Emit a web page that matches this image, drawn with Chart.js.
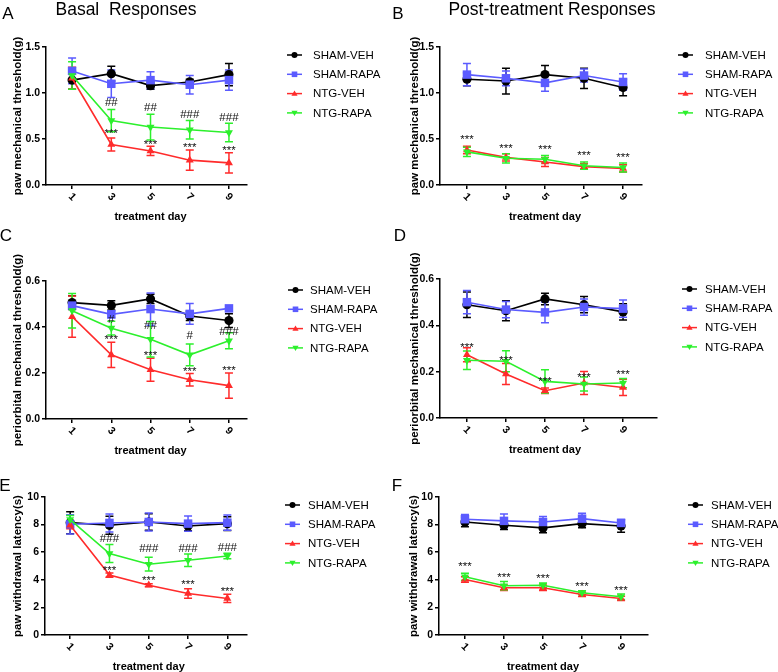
<!DOCTYPE html>
<html lang="en">
<head>
<meta charset="UTF-8">
<title>Basal and post-treatment responses</title>
<script src="https://cdn.jsdelivr.net/npm/chart.js"></script>
<style>
  body { margin: 0; background: #fff; }
  #wrap { position: relative; width: 778px; height: 672px; overflow: hidden; }
  canvas { position: absolute; }
</style>
</head>
<body>
<div id="wrap">
  <canvas id="cA" width="389" height="232" style="left:0;top:0"></canvas>
  <canvas id="cB" width="389" height="232" style="left:389px;top:0"></canvas>
  <canvas id="cC" width="389" height="240" style="left:0;top:220px"></canvas>
  <canvas id="cD" width="389" height="240" style="left:389px;top:220px"></canvas>
  <canvas id="cE" width="389" height="232" style="left:0;top:440px"></canvas>
  <canvas id="cF" width="389" height="232" style="left:389px;top:440px"></canvas>
</div>

<script>
  const days = [1, 3, 5, 7, 9];
  const groups = ['SHAM-VEH', 'SHAM-RAPA', 'NTG-VEH', 'NTG-RAPA'];
  const colors = ['#000000', '#5b5bff', '#ff2b2b', '#2cf02c'];
  const shapes = ['circle', 'rect', 'triangle', 'triangle'];
  const turns = [0, 0, 0, 180];

  // A - basal paw mechanical threshold (g)
  const aShamVeh  = [1.14, 1.21, 1.08, 1.12, 1.20];
  const aShamRapa = [1.24, 1.10, 1.14, 1.09, 1.14];
  const aNtgVeh   = [1.16, 0.44, 0.37, 0.27, 0.24];
  const aNtgRapa  = [1.19, 0.70, 0.63, 0.60, 0.57];
  const aShamVehSem  = [0.10, 0.08, 0.04, 0.03, 0.12];
  const aShamRapaSem = [0.14, 0.15, 0.09, 0.10, 0.11];
  const aNtgVehSem   = [0.12, 0.07, 0.05, 0.11, 0.11];
  const aNtgRapaSem  = [0.15, 0.12, 0.14, 0.10, 0.10];
  const aStarY = [null, 0.58, 0.455, 0.426, 0.39];
  const aHash  = [null, '##', '##', '###', '###'];
  const aHashY = [null, 0.888, 0.834, 0.762, 0.733];

  // B - post-treatment paw mechanical threshold (g)
  const bShamVeh  = [1.15, 1.13, 1.20, 1.16, 1.06];
  const bShamRapa = [1.20, 1.16, 1.11, 1.19, 1.12];
  const bNtgVeh   = [0.38, 0.30, 0.25, 0.20, 0.18];
  const bNtgRapa  = [0.36, 0.29, 0.28, 0.21, 0.19];
  const bShamVehSem  = [0.07, 0.14, 0.10, 0.11, 0.09];
  const bShamRapaSem = [0.12, 0.08, 0.09, 0.07, 0.09];
  const bNtgVehSem   = [0.04, 0.04, 0.05, 0.03, 0.04];
  const bNtgRapaSem  = [0.05, 0.05, 0.04, 0.04, 0.05];
  const bStarY = [0.509, 0.419, 0.408, 0.336, 0.321];

  // C - basal periorbital mechanical threshold (g)
  const cShamVeh  = [0.506, 0.494, 0.522, 0.448, 0.428];
  const cShamRapa = [0.493, 0.455, 0.478, 0.457, 0.481];
  const cNtgVeh   = [0.445, 0.279, 0.214, 0.171, 0.145];
  const cNtgRapa  = [0.471, 0.395, 0.347, 0.279, 0.340];
  const cShamVehSem  = [0.030, 0.020, 0.020, 0.020, 0.030];
  const cShamRapaSem = [0.010, 0.015, 0.070, 0.045, 0.010];
  const cNtgVehSem   = [0.090, 0.055, 0.050, 0.027, 0.055];
  const cNtgRapaSem  = [0.075, 0.030, 0.077, 0.047, 0.035];
  const cStarY = [null, 0.351, 0.282, 0.214, 0.218];
  const cHash  = [null, '#', '##', '#', '###'];
  const cHashY = [null, 0.431, 0.405, 0.361, 0.380];

  // D - post-treatment periorbital mechanical threshold (g)
  const dShamVeh  = [0.489, 0.463, 0.514, 0.489, 0.458];
  const dShamRapa = [0.500, 0.468, 0.456, 0.479, 0.472];
  const dNtgVeh   = [0.273, 0.190, 0.118, 0.151, 0.132];
  const dNtgRapa  = [0.249, 0.245, 0.158, 0.147, 0.151];
  const dShamVehSem  = [0.055, 0.043, 0.025, 0.035, 0.035];
  const dShamRapaSem = [0.050, 0.035, 0.045, 0.035, 0.037];
  const dNtgVehSem   = [0.030, 0.045, 0.012, 0.050, 0.035];
  const dNtgRapaSem  = [0.040, 0.045, 0.050, 0.030, 0.020];
  const dStarY = [0.312, 0.256, 0.165, 0.183, 0.194];

  // E - basal paw withdrawal latency (s)
  const eShamVeh  = [8.14, 7.95, 8.19, 7.90, 8.07];
  const eShamRapa = [8.02, 8.12, 8.19, 8.07, 8.14];
  const eNtgVeh   = [7.95, 4.34, 3.61, 3.01, 2.65];
  const eNtgRapa  = [8.36, 5.90, 5.13, 5.42, 5.73];
  const eShamVehSem  = [0.80, 0.65, 0.60, 0.35, 0.50];
  const eShamRapaSem = [0.70, 0.65, 0.65, 0.55, 0.55];
  const eNtgVehSem   = [0.25, 0.15, 0.10, 0.35, 0.30];
  const eNtgRapaSem  = [0.30, 0.65, 0.50, 0.45, 0.20];
  const eStarY = [null, 4.82, 4.10, 3.78, 3.25];
  const eHash  = [null, '###', '###', '###', '###'];
  const eHashY = [null, 6.94, 6.27, 6.27, 6.34];

  // F - post-treatment paw withdrawal latency (s)
  const fShamVeh  = [8.19, 7.95, 7.76, 8.07, 7.90];
  const fShamRapa = [8.39, 8.27, 8.19, 8.43, 8.12];
  const fNtgVeh   = [4.02, 3.42, 3.42, 2.94, 2.65];
  const fNtgRapa  = [4.22, 3.57, 3.61, 3.06, 2.77];
  const fShamVehSem  = [0.35, 0.30, 0.35, 0.30, 0.45];
  const fShamRapaSem = [0.35, 0.50, 0.40, 0.40, 0.25];
  const fNtgVehSem   = [0.20, 0.20, 0.20, 0.15, 0.15];
  const fNtgRapaSem  = [0.25, 0.30, 0.15, 0.15, 0.20];
  const fStarY = [5.06, 4.27, 4.22, 3.66, 3.33];

  const FONT = '"Liberation Sans", Arial, sans-serif';

  const panels = [
    { id: 'cA', area: [46, 47, 247, 185], xMin: -0.33, xMax: 9.92, yMax: 1.5, step: 0.5, dec: 1,
      yTitle: 'paw mechanical threshold(g)', yTitleX: 18, letter: ['A', 8, 14], title: ['Basal  Responses', 126, 10],
      legend: [287, 313, 55], means: [aShamVeh, aShamRapa, aNtgVeh, aNtgRapa],
      sems: [aShamVehSem, aShamRapaSem, aNtgVehSem, aNtgRapaSem], starY: aStarY, hash: aHash, hashY: aHashY },
    { id: 'cB', area: [51, 47, 253, 185], xMin: -0.38, xMax: 9.97, yMax: 1.5, step: 0.5, dec: 1,
      yTitle: 'paw mechanical threshold(g)', yTitleX: 26, letter: ['B', 9, 14], title: ['Post-treatment Responses', 163, 10],
      legend: [289, 316, 55], means: [bShamVeh, bShamRapa, bNtgVeh, bNtgRapa],
      sems: [bShamVehSem, bShamRapaSem, bNtgVehSem, bNtgRapaSem], starY: bStarY },
    { id: 'cC', area: [46, 61, 247, 199], xMin: -0.33, xMax: 9.92, yMax: 0.6, step: 0.2, dec: 1,
      yTitle: 'periorbital mechanical threshold(g)', yTitleX: 18, letter: ['C', 6, 16],
      legend: [288, 310, 70], means: [cShamVeh, cShamRapa, cNtgVeh, cNtgRapa],
      sems: [cShamVehSem, cShamRapaSem, cNtgVehSem, cNtgRapaSem], starY: cStarY, hash: cHash, hashY: cHashY },
    { id: 'cD', area: [51, 59, 268, 198], xMin: -0.38, xMax: 10.74, yMax: 0.6, step: 0.2, dec: 1,
      yTitle: 'periorbital mechanical threshold(g)', yTitleX: 26, letter: ['D', 11, 16],
      legend: [293, 316, 69], means: [dShamVeh, dShamRapa, dNtgVeh, dNtgRapa],
      sems: [dShamVehSem, dShamRapaSem, dNtgVehSem, dNtgRapaSem], starY: dStarY },
    { id: 'cE', area: [45, 57, 247, 195], xMin: -0.28, xMax: 10.0, yMax: 10, step: 2, dec: 0,
      yTitle: 'paw withdrawal latency(s)', yTitleX: 18, letter: ['E', 5, 46],
      legend: [285, 308, 65], means: [eShamVeh, eShamRapa, eNtgVeh, eNtgRapa],
      sems: [eShamVehSem, eShamRapaSem, eNtgVehSem, eNtgRapaSem], starY: eStarY, hash: eHash, hashY: eHashY },
    { id: 'cF', area: [50, 57, 259, 195], xMin: -0.33, xMax: 10.38, yMax: 10, step: 2, dec: 0,
      yTitle: 'paw withdrawal latency(s)', yTitleX: 25, letter: ['F', 8, 46],
      legend: [299, 322, 65], means: [fShamVeh, fShamRapa, fNtgVeh, fNtgRapa],
      sems: [fShamVehSem, fShamRapaSem, fNtgVehSem, fNtgRapaSem], starY: fStarY }
  ];

  function marker(ctx, shape, turn, x, y, r, color) {
    ctx.save();
    ctx.fillStyle = color;
    ctx.translate(x, y);
    ctx.rotate(turn * Math.PI / 180);
    ctx.beginPath();
    if (shape === 'circle') {
      ctx.arc(0, 0, r, 0, Math.PI * 2);
    } else if (shape === 'rect') {
      ctx.rect(-r, -r, 2 * r, 2 * r);
    } else {
      ctx.moveTo(0, -r * 1.15);
      ctx.lineTo(r * 1.1, r * 0.75);
      ctx.lineTo(-r * 1.1, r * 0.75);
      ctx.closePath();
    }
    ctx.fill();
    ctx.restore();
  }

  function extras(p) {
    return {
      id: 'extras',
      beforeDatasetsDraw(chart) {
        const ctx = chart.ctx, ys = chart.scales.y;
        ctx.save();
        ctx.lineWidth = 1.5;
        p.means.forEach((m, i) => {
          const meta = chart.getDatasetMeta(i);
          ctx.strokeStyle = colors[i];
          m.forEach((v, j) => {
            const x = meta.data[j].x;
            const t = ys.getPixelForValue(v + p.sems[i][j]);
            const b = ys.getPixelForValue(v - p.sems[i][j]);
            ctx.beginPath();
            ctx.moveTo(x, t); ctx.lineTo(x, b);
            ctx.moveTo(x - 4, t); ctx.lineTo(x + 4, t);
            ctx.moveTo(x - 4, b); ctx.lineTo(x + 4, b);
            ctx.stroke();
          });
        });
        ctx.restore();
      },
      afterDraw(chart) {
        const ctx = chart.ctx, xs = chart.scales.x, ys = chart.scales.y;
        const area = chart.chartArea;
        ctx.save();
        ctx.fillStyle = '#000';
        ctx.textAlign = 'center';
        ctx.textBaseline = 'middle';

        // rotated day labels
        ctx.font = 'bold 10.5px ' + FONT;
        days.forEach(d => {
          ctx.save();
          ctx.translate(xs.getPixelForValue(d), area.bottom + 12);
          ctx.rotate(Math.PI / 4);
          ctx.fillText(String(d), 0, 0);
          ctx.restore();
        });

        // axis titles
        ctx.font = 'bold 11px ' + FONT;
        ctx.fillText('treatment day', xs.getPixelForValue(5), area.bottom + 32);
        ctx.font = 'bold 11.5px ' + FONT;
        ctx.save();
        ctx.translate(p.yTitleX, (area.top + area.bottom) / 2);
        ctx.rotate(-Math.PI / 2);
        ctx.fillText(p.yTitle, 0, 0);
        ctx.restore();

        // panel letter and title
        ctx.font = '17px ' + FONT;
        ctx.fillText(p.letter[0], p.letter[1], p.letter[2]);
        if (p.title) {
          ctx.font = '17.5px ' + FONT;
          ctx.fillText(p.title[0], p.title[1], p.title[2]);
        }

        // significance marks
        ctx.font = '11.5px ' + FONT;
        ctx.fillStyle = '#111';
        days.forEach((d, j) => {
          const x = xs.getPixelForValue(d);
          if (p.starY && p.starY[j] != null) ctx.fillText('***', x, ys.getPixelForValue(p.starY[j]) + 2);
          if (p.hash && p.hash[j]) ctx.fillText(p.hash[j], x, ys.getPixelForValue(p.hashY[j]));
        });

        // legend
        const [mx, tx, ly] = p.legend;
        ctx.font = '11.5px ' + FONT;
        ctx.textAlign = 'left';
        ctx.fillStyle = '#000';
        groups.forEach((g, i) => {
          const y = ly + i * 19.3;
          ctx.strokeStyle = colors[i];
          ctx.lineWidth = 1.5;
          ctx.beginPath();
          ctx.moveTo(mx, y); ctx.lineTo(mx + 15, y);
          ctx.stroke();
          marker(ctx, shapes[i], turns[i], mx + 7.5, y, i === 0 ? 3 : 2.8, colors[i]);
          ctx.fillStyle = '#000';
          ctx.fillText(g, tx, y + 0.5);
        });
        ctx.restore();
      }
    };
  }

  panels.forEach(p => {
    const canvas = document.getElementById(p.id);
    const W = canvas.width, H = canvas.height;
    const [left, top, right, bottom] = p.area;

    new Chart(canvas.getContext('2d'), {
      type: 'line',
      data: {
        datasets: groups.map((g, i) => ({
          label: g,
          data: days.map((d, j) => ({ x: d, y: p.means[i][j] })),
          borderColor: colors[i],
          backgroundColor: colors[i],
          borderWidth: 1.6,
          pointStyle: shapes[i],
          pointRotation: turns[i],
          pointRadius: shapes[i] === 'rect' ? 6 : 4.6,
          pointBorderWidth: 0,
          tension: 0,
          order: 3 - i
        }))
      },
      options: {
        responsive: false,
        animation: false,
        devicePixelRatio: 1,
        layout: { padding: { left: 0, top: top, right: W - right, bottom: 0 } },
        scales: {
          x: {
            type: 'linear',
            min: p.xMin,
            max: p.xMax,
            afterBuildTicks: s => { s.ticks = days.map(v => ({ value: v })); },
            afterFit: s => { s.height = H - bottom; },
            ticks: { display: false },
            grid: { drawOnChartArea: false, drawTicks: true, tickLength: 4, color: '#000', lineWidth: 1.5 },
            border: { display: true, color: '#000', width: 1.5 }
          },
          y: {
            min: 0,
            max: p.yMax,
            afterFit: s => { s.width = left; },
            ticks: {
              stepSize: p.step,
              padding: 2,
              color: '#000',
              font: { family: FONT, size: 10.5, weight: 'bold' },
              callback: v => v.toFixed(p.dec)
            },
            grid: { drawOnChartArea: false, drawTicks: true, tickLength: 4, color: '#000', lineWidth: 1.5 },
            border: { display: true, color: '#000', width: 1.5 }
          }
        },
        plugins: {
          legend: { display: false },
          tooltip: { enabled: false }
        }
      },
      plugins: [extras(p)]
    });
  });
</script>
</body>
</html>
